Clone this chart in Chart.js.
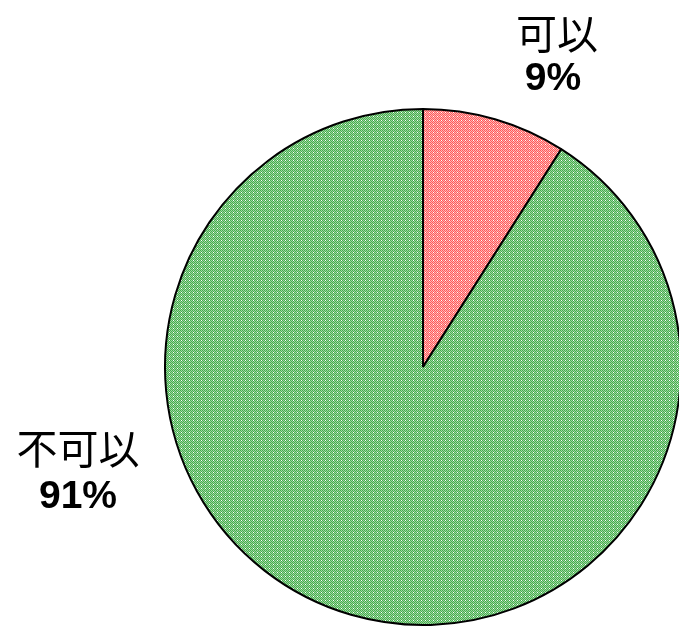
<!DOCTYPE html>
<html>
<head>
<meta charset="utf-8">
<script src="https://cdn.jsdelivr.net/npm/chart.js@4/dist/chart.umd.min.js"></script>
<style>
  html, body { margin: 0; padding: 0; background: #fff; overflow: hidden; }
  #pie { position: absolute; left: 0; top: 0; }
</style>
</head>
<body>
<canvas id="pie" width="690" height="640"></canvas>
<script>
// data
const categories = ['可以', '不可以'];
const percents = [9, 91];

// label anchors (text layout only)
const labelSpots = [
    { name: [557, 33], pct: [553, 79] },
    { name: [78, 448], pct: [78, 497] }
];

function makePattern(dark, light) {
    const c = document.createElement('canvas');
    c.width = 4;
    c.height = 4;
    const g = c.getContext('2d');
    for (let y = 0; y < 4; y++) {
        for (let x = 0; x < 4; x++) {
            g.fillStyle = (x + y) % 2 === 0 ? dark : light;
            g.fillRect(x, y, 1, 1);
        }
    }
    g.fillStyle = '#ffffff';
    g.fillRect(1, 0, 1, 1);
    return g.createPattern(c, 'repeat');
}

const redFill = makePattern('#ff5a5a', '#ffb4b4');
const greenFill = makePattern('#45ac4f', '#9fd89f');

const outsideLabels = {
    id: 'outsideLabels',
    afterDraw(chart) {
        const ctx = chart.ctx;
        ctx.save();
        ctx.fillStyle = '#000';
        ctx.textAlign = 'center';
        ctx.textBaseline = 'middle';
        categories.forEach((cat, i) => {
            const spot = labelSpots[i];
            ctx.font = '41px "Noto Sans CJK TC", sans-serif';
            ctx.fillText(cat, spot.name[0], spot.name[1]);
            ctx.font = 'bold 39px "Liberation Sans", Arial, sans-serif';
            ctx.fillText(percents[i] + '%', spot.pct[0], spot.pct[1]);
        });
        ctx.restore();
    }
};

new Chart(document.getElementById('pie'), {
    type: 'pie',
    data: {
        labels: categories,
        datasets: [{
            data: percents,
            backgroundColor: [redFill, greenFill],
            borderColor: '#000',
            borderWidth: 2
        }]
    },
    options: {
        responsive: false,
        animation: false,
        layout: { padding: { left: 164, right: 8, top: 108, bottom: 14 } },
        plugins: {
            legend: { display: false },
            tooltip: { enabled: false }
        }
    },
    plugins: [outsideLabels]
});
</script>
</body>
</html>
